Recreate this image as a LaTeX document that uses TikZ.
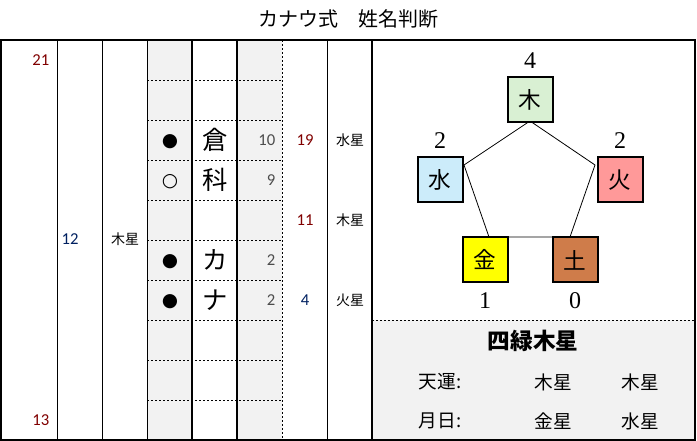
\documentclass[tikz,border=0pt]{standalone}
\usepackage{fontspec}
\setmainfont{Liberation Serif}
\newfontfamily\jp{Noto Sans CJK JP}
\newfontfamily\num{Carlito}
\newfontfamily\sym{DejaVu Sans}
\definecolor{cellgrey}{RGB}{242,242,242}
\definecolor{numred}{RGB}{128,0,0}
\definecolor{numblue}{RGB}{0,32,96}
\definecolor{moku}{RGB}{217,240,211}
\definecolor{sui}{RGB}{204,236,250}
\definecolor{ka}{RGB}{255,153,153}
\definecolor{kin}{RGB}{255,255,0}
\definecolor{do}{RGB}{207,124,74}
\tikzset{
  small/.style={font=\jp\fontsize{10.5}{10.5}\selectfont},
  numtxt/.style={font=\num\fontsize{12.5}{12.5}\selectfont},
  bigchar/.style={font=\jp\fontsize{19}{19}\selectfont},
  dotmark/.style={font=\sym\fontsize{14}{14}\selectfont},
  elem/.style={draw,line width=1.5pt,minimum size=33.75pt,inner sep=0pt,font=\jp\fontsize{17}{17}\selectfont},
  count/.style={font=\fontsize{18}{18}\selectfont},
  panel/.style={font=\jp\fontsize{14}{14}\selectfont},
  rowline/.style={dashed,dash pattern=on 1.5pt off 1.5pt,line width=0.5pt},
}
\begin{document}
\begin{tikzpicture}[x=0.75pt,y=0.75pt,yscale=-1,xscale=1]
\useasboundingbox (0,0) rectangle (697,441);

%Shaded columns
\fill[cellgrey] (147,40) rectangle (192,440);
\fill[cellgrey] (237,40) rectangle (282,440);
\fill[cellgrey] (372,320) rectangle (695,440);

%Dotted rows
\foreach \y in {80,120,...,400}
  \draw[rowline] (147,\y) -- (282,\y);
\draw[rowline] (372,320) -- (695,320);
\draw[rowline] (282,40) -- (282,440);

%Thin columns
\foreach \x in {57,102,147,327}
  \draw[line width=0.75pt] (\x,40) -- (\x,440);
%Thick columns
\foreach \x in {192,237,372}
  \draw[line width=1.5pt] (\x,40) -- (\x,440);
%Frame
\draw[line width=2pt] (1,40) rectangle (695,440);

% Title
\draw (348,19) node [font=\jp\fontsize{15}{15}\selectfont] (title) {カナウ式　姓名判断};

% Left columns
\draw (54,60) node [numtxt,anchor=east,text=numred] (sum) {21};
\draw (54,420) node [numtxt,anchor=east,text=numred] (outer) {13};
\draw (70,239) node [numtxt,text=numblue] (mid) {12};
\draw (125,239) node [small] (midstar) {木星};

% Marks and name
\draw (170,142) node [dotmark] (m1) {●};
\draw (170,182) node [dotmark] (m2) {○};
\draw (170,262) node [dotmark] (m3) {●};
\draw (170,302) node [dotmark] (m4) {●};
\draw (215,140) node [bigchar] (c1) {倉};
\draw (215,180) node [bigchar] (c2) {科};
\draw (215,260) node [bigchar] (c3) {カ};
\draw (215,300) node [bigchar] (c4) {ナ};

% Strokes
\draw (280,140) node [numtxt,anchor=east,text=black!70] (s1) {10};
\draw (280,180) node [numtxt,anchor=east,text=black!70] (s2) {9};
\draw (280,260) node [numtxt,anchor=east,text=black!70] (s3) {2};
\draw (280,300) node [numtxt,anchor=east,text=black!70] (s4) {2};

% Totals
\draw (305,140) node [numtxt,text=numred] (t1) {19};
\draw (305,220) node [numtxt,text=numred] (t2) {11};
\draw (305,300) node [numtxt,text=numblue] (t3) {4};
\draw (350,140) node [small] (p1) {水星};
\draw (350,220) node [small] (p2) {木星};
\draw (350,300) node [small] (p3) {火星};

% Pentagon
\draw[line width=0.6pt] (530,121) -- (595,165) -- (570,237) -- (489,237) -- (464,165) -- cycle;

\draw (530,100) node [elem,fill=moku] (wood) {木};
\draw (440,180) node [elem,fill=sui] (water) {水};
\draw (620,180) node [elem,fill=ka] (fire) {火};
\draw (485,260) node [elem,fill=kin] (metal) {金};
\draw (575,260) node [elem,fill=do] (earth) {土};

\draw (530,61) node [count] (nwood) {4};
\draw (440,141) node [count] (nwater) {2};
\draw (620,141) node [count] (nfire) {2};
\draw (485,301) node [count] (nmetal) {1};
\draw (575,301) node [count] (nearth) {0};

% Star panel
\draw (533,341) node [font=\jp\bfseries\fontsize{17}{17}\selectfont] (star) {四緑木星};
\draw (440,382) node [panel] (ten) {天運:};
\draw (553,382) node [panel] (ten1) {木星};
\draw (640,382) node [panel] (ten2) {木星};
\draw (440,421) node [panel] (day) {月日:};
\draw (553,421) node [panel] (day1) {金星};
\draw (640,421) node [panel] (day2) {水星};

\end{tikzpicture}
\end{document}
